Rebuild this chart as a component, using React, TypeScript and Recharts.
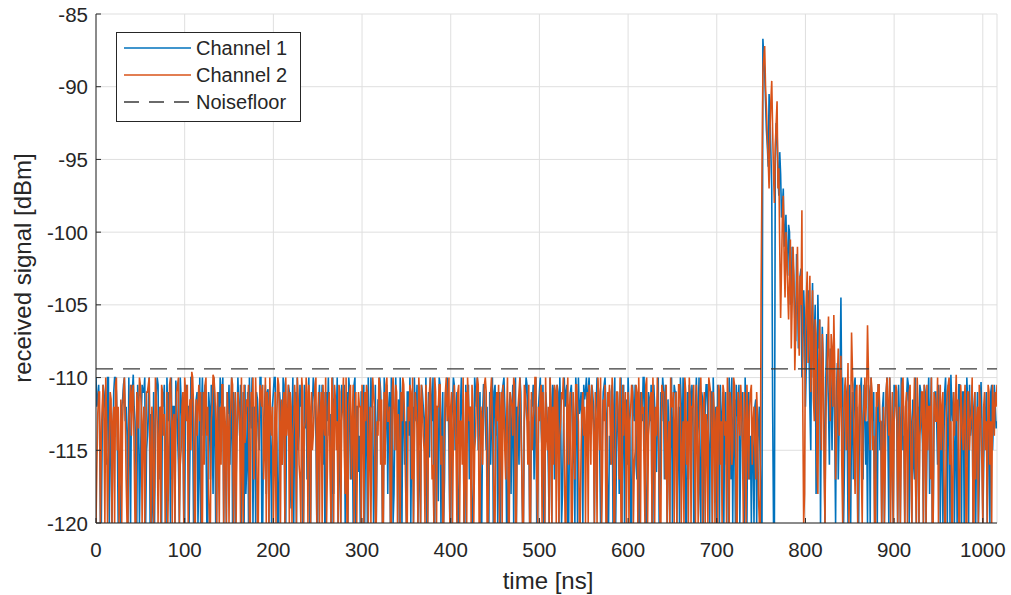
import React from 'react';
import { LineChart, Line, XAxis, YAxis, CartesianGrid } from 'recharts';

// traces are sampled every 1 ns; values are stored as even-ns and odd-ns samples
const sampleStepNs = 2;

// Channel 1, samples at t = 0, 2, 4, ... ns
const channel1Even: number[] = [
  -110, -111.5, -113, -120, -110.5, -112, -116, -110, -114, -120, -111, -110, -113.5, -117, -120, -111.5, -110, -112, -120, -115, -110.5, -109.8, -113, -120, -112,
  -116, -110.5, -111, -120, -114, -110, -112.5, -118, -120, -111, -110.5, -113, -120, -112, -115.5, -110, -111, -120, -117, -112, -110.2, -114, -120, -111.5, -113,
  -120, -110.5, -112, -115, -110, -120, -113, -111, -116.5, -120, -110, -111.5, -114, -120, -112, -110.5, -118, -113, -120, -111, -110, -112.5, -120, -115, -111,
  -110.5, -113, -120, -112, -117, -110, -114, -120, -111, -110.5, -116, -120, -112.5, -110, -113, -120, -111.5, -115, -110, -120, -112, -118, -110.8, -113, -120,
  -111, -110, -114.5, -120, -112, -116, -110.5, -120, -113, -111, -119, -110, -112, -120, -115, -110.5, -111, -120, -113.5, -117, -110, -120, -112, -111, -114,
  -120, -110.5, -113, -116, -120, -111, -110, -112.5, -120, -118, -111.5, -110, -114, -120, -112, -110.5, -115, -120, -111, -113, -120, -110, -112, -116.5, -120,
  -111, -110.5, -113, -120, -114, -110, -112, -117, -120, -111.5, -110, -113, -120, -115, -110.5, -112, -120, -111, -118, -110, -113.5, -120, -112, -110.5, -116,
  -120, -111, -110, -114, -120, -112.5, -110.5, -117, -120, -111, -113, -110, -120, -115.5, -111.5, -110, -120, -112, -118.5, -110.5, -113, -120, -111, -110, -115,
  -120, -112, -110.5, -113, -120, -116, -110, -111.5, -120, -114, -110.5, -112, -120, -117, -111, -110, -113, -120, -112.5, -110.5, -115, -120, -111, -113, -120,
  -110.5, -112, -116, -120, -111, -110, -114, -120, -112, -118, -110.5, -111, -120, -113, -110, -115.5, -120, -111.5, -110.5, -113, -120, -112, -117, -110, -120,
  -111, -113.5, -110.5, -120, -112, -116, -110, -120, -111, -114, -110.5, -120, -112.5, -118, -110, -111, -120, -113, -110.5, -115, -120, -111.5, -110, -112, -114,
  -110.5, -111, -112.5, -110, -113, -111, -120, -112, -110.5, -115, -120, -111, -110, -113.5, -120, -116, -110.5, -112, -120, -111, -118, -110, -113, -120, -111.5,
  -110, -114, -120, -112, -110.5, -117, -120, -111, -113, -110, -120, -115, -111.5, -110.5, -120, -112, -116.5, -110, -120, -113, -111, -110.5, -120, -114, -112,
  -120, -110.5, -111, -115, -120, -112, -110, -113.5, -120, -117, -111, -110.5, -120, -112, -114, -110, -120, -111.5, -116, -110.5, -113, -120, -111, -110, -115,
  -120, -112, -110.5, -114, -120, -111, -113, -110, -117, -120, -111.5, -110.5, -113, -120, -112, -115, -110, -120, -111, -114, -113, -120, -111.5, -115, -112,
  -120, -86.7, -89, -93, -95.5, -92, -97, -120, -95, -93, -97.5, -96, -98.3, -101, -98.8, -103, -100, -104.5, -102, -106, -101.5, -108, -103, -110, -104,
  -112, -105, -108, -115, -103.5, -107, -118, -104.3, -106, -111, -109, -120, -107, -112, -108, -115, -110, -120, -109, -113, -104.5, -110, -116, -111, -120,
  -110.5, -113, -117, -110, -112, -120, -111, -114, -110.5, -116, -120, -111, -110, -113, -120, -112, -110.5, -115, -120, -111, -113.5, -110, -120, -112, -117,
  -110.5, -111, -120, -113, -110, -115, -120, -111.5, -110.5, -112, -120, -116, -110, -113, -120, -111, -114.5, -110.5, -120, -112, -118, -110, -120, -111, -113,
  -110.5, -120, -112, -115, -110, -120, -111.5, -109.8, -113, -120, -112, -116, -110.5, -120, -111, -113, -110, -120, -114, -110.5, -112, -120, -111, -117, -110.3,
  -120, -112, -111, -114, -120, -110.5, -113, -112, -113,
];

// Channel 1, samples at t = 1, 3, 5, ... ns
const channel1Odd: number[] = [
  -112, -110.5, -120, -114, -111, -113, -110, -120, -112.5, -115, -110, -111, -120, -118, -112, -110.5, -113, -114, -110, -120, -111, -112, -116, -110.5, -120,
  -113, -111, -110, -115, -112, -120, -120, -111, -113.5, -110, -117, -112, -111, -110.5, -120, -113, -114, -110, -112, -120, -111.5, -116, -110, -113, -120,
  -111, -112, -120, -110, -113, -116, -111.5, -120, -110, -112, -114, -110.5, -120, -111, -117, -113, -110, -120, -112, -115, -111, -110, -113, -120, -112.5,
  -116, -110, -111, -120, -113, -112, -110.5, -115, -120, -118, -111, -110, -113.5, -120, -112, -111, -114, -110, -120, -113, -110.5, -111, -120, -115, -112,
  -110, -113, -120, -111, -115.5, -110, -120, -112, -110.5, -117, -113, -120, -111, -110, -114, -112, -120, -110.5, -111, -116, -120, -113, -110, -112, -120,
  -112, -115, -110.5, -111, -120, -113, -114, -120, -110, -111.5, -113, -120, -116, -110.5, -112, -120, -111, -110, -117, -113, -110.5, -120, -112, -114, -111,
  -113, -120, -111, -110, -116, -112, -120, -110.5, -114, -113, -111, -120, -110, -112.5, -118, -111, -110, -120, -113, -115, -111.5, -110, -120, -112, -113,
  -111, -114, -120, -112, -110, -113, -120, -115, -110.5, -112, -116, -120, -111, -110, -113, -120, -112, -114.5, -110, -120, -111, -117, -112, -110.5, -120,
  -113, -110, -115, -111, -120, -112, -113.5, -120, -110.5, -111, -117, -113, -120, -110, -112, -115, -111, -120, -110.5, -113, -112, -120, -116, -110, -111,
  -114, -120, -111, -113, -110.5, -112, -120, -115, -111, -113, -120, -110, -112, -116, -111, -120, -113, -110, -114, -120, -111.5, -110.5, -113, -120, -112,
  -110, -115, -120, -111, -113, -120, -112, -110.5, -117, -113, -111, -110, -120, -114, -112, -110.5, -120, -111, -113, -116, -110, -120, -112.5, -111, -120,
  -111.5, -110, -111, -112, -110.5, -112, -113, -110, -111, -120, -113, -110.5, -112, -120, -114, -111, -120, -110, -115, -113, -111, -120, -110.5, -112, -116,
  -112, -120, -110.5, -113, -116, -111, -120, -112, -110, -114, -120, -111, -113, -120, -110.5, -115, -112, -120, -111, -110, -117, -113, -111.5, -120, -110,
  -113, -111, -120, -112, -110, -116, -113, -120, -111, -110.5, -114, -112, -120, -110, -113, -118, -111, -120, -112, -110.5, -115, -111, -120, -113, -112,
  -110.5, -120, -113, -111, -112, -116, -120, -111.5, -110, -113, -120, -112, -110.5, -115, -111, -120, -113, -112, -117, -120, -115, -112, -120, -113.5, -116,
  -120, -88, -91, -94, -90.5, -94.5, -112, -120, -92.5, -96, -94.5, -99, -97, -100, -102, -99.5, -105, -101, -103.5, -107.5, -104, -106, -102.5, -108.5, -106,
  -109, -104, -112, -106.5, -110, -105, -113, -108, -120, -106.5, -114, -110, -109.5, -116, -111, -109, -113.5, -111, -117, -110, -112, -120, -110.5, -113, -111.5,
  -120, -111, -110.5, -114, -120, -112, -110, -117, -111, -113, -110.5, -120, -112, -111, -115, -120, -110.5, -113, -112, -120, -111, -114, -110, -116, -120,
  -112, -113, -110.5, -120, -111, -114, -112, -110, -120, -113, -111.5, -117, -120, -112, -110.5, -113, -120, -111, -115, -110, -112, -120, -113, -111, -116,
  -112, -115, -120, -111, -113, -110.5, -120, -112, -111, -115, -120, -110.5, -113, -111, -120, -116, -112, -110.5, -113, -120, -111, -114, -120, -112, -113,
  -116, -113, -120, -112, -111, -115, -110.5, -113.5,
];

// Channel 2, samples at t = 0, 2, 4, ... ns
const channel2Even: number[] = [
  -120, -112.5, -111, -114, -110.5, -120, -113, -116, -111, -120, -112, -110.5, -115, -120, -111.5, -113, -110, -117, -120, -112, -114, -110.5, -120, -111, -113.5,
  -110.5, -120, -112, -115, -111, -110, -120, -113, -117.5, -111.5, -120, -112, -110.5, -114, -120, -111, -116, -110, -120, -112.5, -113, -110.5, -120, -115, -111,
  -110, -113, -120, -111.5, -109.6, -112, -120, -114, -110.5, -111, -120, -116, -110, -112, -120, -113, -109.8, -111, -120, -115, -112, -110.5, -120, -113.5, -111,
  -120, -112, -110.5, -116, -120, -111, -113, -110, -120, -114.5, -111.5, -110.5, -120, -112, -117, -110, -120, -113, -111, -110.5, -115, -120, -112, -110, -114,
  -120, -111, -112.5, -110.5, -120, -116, -111, -110, -113, -120, -112, -114, -110.5, -120, -111.5, -117, -110, -120, -113, -111, -110.5, -120, -115, -112, -110,
  -113, -120, -111, -110.5, -114, -120, -112, -116.5, -110, -120, -111.5, -113, -110.5, -120, -112, -115, -110, -120, -111, -117, -110.5, -113, -120, -111, -112,
  -110.5, -120, -113, -111, -115, -120, -110, -112, -120, -114, -110.5, -111.5, -120, -116, -110, -113, -120, -111, -112.5, -110.5, -120, -115, -111, -110, -113,
  -120, -112, -110.5, -117, -120, -111, -113.5, -110, -120, -112, -115, -110.5, -120, -111, -113, -116, -110, -120, -112, -110.5, -114, -120, -111, -113, -110,
  -112, -120, -110.5, -115, -111, -120, -113, -110, -117, -120, -111.5, -112, -110.5, -120, -114, -110, -120, -112, -116, -110.5, -111, -120, -113, -110, -115,
  -120, -111, -110.5, -113, -120, -112, -117, -110, -120, -111.5, -114, -110.5, -120, -112, -110, -116, -120, -111, -113, -110.5, -120, -115, -112, -110, -120,
  -113, -110.5, -111, -120, -114, -112, -110, -120, -116, -111, -110.5, -120, -113, -111.5, -115, -120, -110, -112, -120, -111, -117, -110.5, -113, -120, -112,
  -114, -120, -111, -110.5, -116, -112, -120, -113, -110, -115, -120, -111.5, -110.5, -120, -112, -114, -110, -120, -113, -111, -117, -120, -110.5, -112, -120,
  -111, -113, -110.5, -120, -115, -111, -110, -120, -112.5, -116, -110.5, -120, -113, -111, -110, -120, -114, -112, -120, -110.5, -111, -117, -120, -113, -110,
  -112, -120, -111, -114, -110.5, -120, -113, -110, -116, -120, -111.5, -112, -110.5, -120, -113, -115, -110, -120, -111, -112.5, -120, -110.5, -114, -111, -120,
  -112, -110.5, -116, -120, -111, -113, -110, -120, -112, -115, -110.5, -120, -111, -114, -112, -120, -113, -110.5, -117, -111, -116, -112, -117, -113, -120,
  -104, -89, -87.2, -91.5, -95, -93, -89.6, -96, -94, -91, -95.6, -105.9, -99, -102, -100, -104, -103, -108, -101, -109.5, -104, -106, -103, -98.5, -120,
  -107, -102.7, -106, -111, -104, -113, -107, -118, -106, -115, -109, -120, -110, -105.8, -113, -108, -105.7, -117, -110, -114, -108.5, -120, -111, -115, -109,
  -117, -106.9, -112, -118, -110.5, -114, -111, -120, -112, -113, -106.4, -113, -110, -115, -120, -111, -110.5, -113, -120, -112, -116, -110, -114, -120, -111,
  -113, -110.5, -120, -112, -115, -110, -120, -111, -114, -110.5, -120, -112.5, -117, -110, -120, -113, -111, -110.5, -120, -115, -112, -110, -120, -111.5, -113,
  -120, -110.5, -112, -116, -120, -111, -110, -113, -120, -114, -109.8, -111.5, -120, -112, -115, -110.5, -120, -111, -113, -110, -120, -117, -112, -110.5, -114,
  -120, -111, -113, -110.5, -116, -120, -112, -111, -110.5,
];

// Channel 2, samples at t = 1, 3, 5, ... ns
const channel2Odd: number[] = [
  -116, -111, -120, -112, -113, -110, -120, -114, -111.5, -113, -120, -110, -112, -116, -120, -111, -112.5, -120, -113, -110.5, -111, -115, -120, -112, -110,
  -112, -113, -120, -111, -110.5, -116, -112, -120, -110, -113, -114, -120, -111, -112.5, -117, -120, -110.5, -112, -113, -120, -111, -110, -116, -112, -120,
  -111, -110.5, -113, -115, -110, -120, -111.5, -112, -113, -120, -111, -110.5, -114, -118, -120, -112, -110, -113, -111, -120, -116, -110.5, -112, -120, -113,
  -113, -110, -120, -111, -114, -112, -120, -116, -110.5, -113, -112, -120, -111, -110, -115, -113, -120, -110.5, -112, -117, -110, -111, -120, -113, -112,
  -116, -120, -110, -113, -111.5, -112, -120, -114, -110.5, -111, -120, -113, -112, -110, -116, -120, -111, -113.5, -110, -120, -112, -111, -114, -110.5, -120,
  -111, -112.5, -120, -113, -110, -116, -111, -120, -112, -110.5, -115, -120, -111, -113, -110, -118, -120, -112, -110.5, -113, -120, -111, -114, -112, -120,
  -113, -111, -110.5, -120, -112, -114, -111, -120, -113, -110, -116, -120, -111, -110.5, -113, -112, -120, -110, -115, -111, -112.5, -120, -113, -110.5, -117,
  -120, -113, -111, -110, -115, -112, -120, -111.5, -110.5, -114, -120, -112, -113, -110, -117, -120, -111, -112, -110.5, -116, -120, -113, -110, -112, -120,
  -111, -114, -112, -120, -110.5, -113, -116, -120, -111, -110, -113, -120, -112, -115, -111, -110.5, -120, -113, -112, -110, -120, -116, -111, -113.5, -120,
  -112, -113, -120, -111, -110.5, -115, -113, -120, -111, -112, -110, -120, -114, -111, -113, -120, -110.5, -112, -116, -120, -111, -113, -110, -117, -112,
  -111, -120, -113, -110, -115, -120, -111.5, -112, -110.5, -120, -113, -114, -111, -110, -120, -112, -116, -111, -120, -113, -110.5, -112, -120, -115, -111,
  -112, -113, -120, -112, -110.5, -114, -111, -120, -112, -110, -117, -113, -120, -111, -110.5, -116, -112, -120, -111, -113, -110, -120, -114, -111, -113,
  -120, -112, -111, -116, -110.5, -120, -113, -111, -112, -120, -110, -114, -111.5, -120, -113, -112, -110, -117, -120, -111, -113, -110.5, -115, -120, -112,
  -111, -113, -120, -110.5, -112, -115, -120, -111, -113, -110, -120, -112, -116, -110.5, -120, -111, -113, -112, -120, -114, -110, -111, -120, -112.5, -113,
  -120, -111, -113, -110.5, -114, -120, -112, -111, -116, -110, -113, -120, -112, -110.5, -115, -111, -120, -113, -112, -110.5, -113, -115, -111, -118, -120,
  -96, -88, -90, -93.5, -97, -91, -93, -98, -92.5, -97, -101, -102.5, -97.5, -104.5, -101.5, -106, -100.5, -105, -103, -107, -101, -108.5, -105, -112, -118,
  -104.5, -109, -103, -108, -111.5, -106, -116, -109, -112, -107, -116, -113, -108, -110.5, -107, -112, -109, -114, -108, -111, -116, -113, -110, -112.5, -120,
  -113, -109.5, -115, -111, -120, -110.5, -116, -113, -110, -111, -109.5, -115, -111, -114, -120, -112, -110.5, -113, -116, -120, -111, -112, -110, -115, -120,
  -112, -111, -115, -120, -110.5, -113, -112, -120, -111, -116, -113, -110, -120, -112, -114, -111, -120, -113, -110.5, -112, -117, -120, -111, -113, -110,
  -113, -115, -111, -120, -112, -110.5, -116, -120, -111, -112, -113, -120, -110.5, -114, -112, -120, -111, -115, -112.5, -120, -111, -113, -120, -111.5, -116,
  -112, -115, -120, -111, -113, -110.5, -114, -112,
];

const noiseFloorDbm = -109.4;
const timeRangeNs: [number, number] = [0, 1016];
const xTicks = [0, 100, 200, 300, 400, 500, 600, 700, 800, 900, 1000];
const yTicks = [-120, -115, -110, -105, -100, -95, -90, -85];

const seriesNames = ['Channel 1', 'Channel 2', 'Noisefloor'];

const mergeSamples = (even: number[], odd: number[]) =>
  [
    ...even.map((v, i) => ({ t: i * sampleStepNs, v })),
    ...odd.map((v, i) => ({ t: i * sampleStepNs + 1, v })),
  ].sort((a, b) => a.t - b.t);

const ch1Data = mergeSamples(channel1Even, channel1Odd);
const ch2Data = mergeSamples(channel2Even, channel2Odd);
const noiseData = timeRangeNs.map((t) => ({ t, v: noiseFloorDbm }));

const FONT = '"Liberation Sans", Arial, Helvetica, sans-serif';
const TEXT = '#262626';
const BLUE = '#0072BD';
const ORANGE = '#D95319';
const DASH = '#3a3a3a';

const W = 1011;
const H = 595;
const PLOT_LEFT = 96;
const PLOT_TOP = 14;
const PLOT_BOTTOM = 523;
const PLOT_RIGHT = 997;
const TICK_FONT = 20.5;
const TITLE_FONT = 24;
const LEGEND_FONT = 20;

const YTick = (props: any) => {
  const { y, payload } = props;
  return (
    <g>
      <line x1={PLOT_LEFT} x2={PLOT_LEFT + 5} y1={y} y2={y} stroke={TEXT} strokeWidth={1} />
      <text x={88} y={y} textAnchor="end" dominantBaseline="central" fill={TEXT} fontSize={TICK_FONT} fontFamily={FONT}>
        {payload.value}
      </text>
    </g>
  );
};

const XTick = (props: any) => {
  const { x, payload } = props;
  return (
    <g>
      <line x1={x} x2={x} y1={PLOT_BOTTOM} y2={PLOT_BOTTOM - 5} stroke={TEXT} strokeWidth={1} />
      <text x={x} y={549} textAnchor="middle" dominantBaseline="central" fill={TEXT} fontSize={TICK_FONT} fontFamily={FONT}>
        {payload.value}
      </text>
    </g>
  );
};

const legendColors = [BLUE, ORANGE, DASH];

const LegendBox = () => (
  <div
    style={{
      position: 'absolute',
      left: 116,
      top: 32,
      width: 183,
      height: 88,
      border: '1px solid #262626',
      background: '#fff',
      boxSizing: 'content-box',
    }}
  >
    <svg width={183} height={88} style={{ display: 'block' }}>
      {seriesNames.map((name, i) => {
        const cy = 15 + i * 27;
        return (
          <g key={name}>
            <line
              x1={7}
              x2={74}
              y1={cy}
              y2={cy}
              stroke={legendColors[i]}
              strokeWidth={1.4}
              strokeDasharray={i === 2 ? '15 10' : undefined}
            />
            <text x={79} y={cy} dominantBaseline="central" fill={TEXT} fontSize={LEGEND_FONT} fontFamily={FONT}>
              {name}
            </text>
          </g>
        );
      })}
    </svg>
  </div>
);

export default function App() {
  return (
    <div style={{ position: 'absolute', left: 0, top: 0, width: W, height: H, background: '#fff' }}>
      <LineChart
        width={W}
        height={H}
        margin={{ top: PLOT_TOP, right: W - PLOT_RIGHT, bottom: 0, left: 0 }}
      >
        <CartesianGrid stroke="#dfdfdf" strokeWidth={1} />
        <XAxis
          type="number"
          dataKey="t"
          domain={timeRangeNs}
          ticks={xTicks}
          allowDataOverflow
          height={H - PLOT_BOTTOM}
          axisLine={{ stroke: TEXT, strokeWidth: 1 }}
          tickLine={false}
          tick={<XTick />}
          interval={0}
          label={{
            content: () => (
              <text x={548} y={580} textAnchor="middle" dominantBaseline="central" fill={TEXT} fontSize={TITLE_FONT} fontFamily={FONT}>
                time [ns]
              </text>
            ),
          }}
        />
        <YAxis
          type="number"
          domain={[-120, -85]}
          ticks={yTicks}
          allowDataOverflow
          width={PLOT_LEFT}
          axisLine={{ stroke: TEXT, strokeWidth: 1 }}
          tickLine={false}
          tick={<YTick />}
          interval={0}
          label={{
            content: () => (
              <text
                x={22}
                y={268}
                transform="rotate(-90 22 268)"
                textAnchor="middle"
                dominantBaseline="central"
                fill={TEXT}
                fontSize={TITLE_FONT}
                fontFamily={FONT}
              >
                received signal [dBm]
              </text>
            ),
          }}
        />
        <Line data={ch1Data} dataKey="v" type="linear" stroke={BLUE} strokeWidth={1.6} dot={false} isAnimationActive={false} name={seriesNames[0]} />
        <Line data={ch2Data} dataKey="v" type="linear" stroke={ORANGE} strokeWidth={1.6} dot={false} isAnimationActive={false} name={seriesNames[1]} />
        <Line data={noiseData} dataKey="v" type="linear" stroke={DASH} strokeWidth={1.1} strokeDasharray="17 10" dot={false} isAnimationActive={false} name={seriesNames[2]} />
      </LineChart>
      <LegendBox />
    </div>
  );
}
